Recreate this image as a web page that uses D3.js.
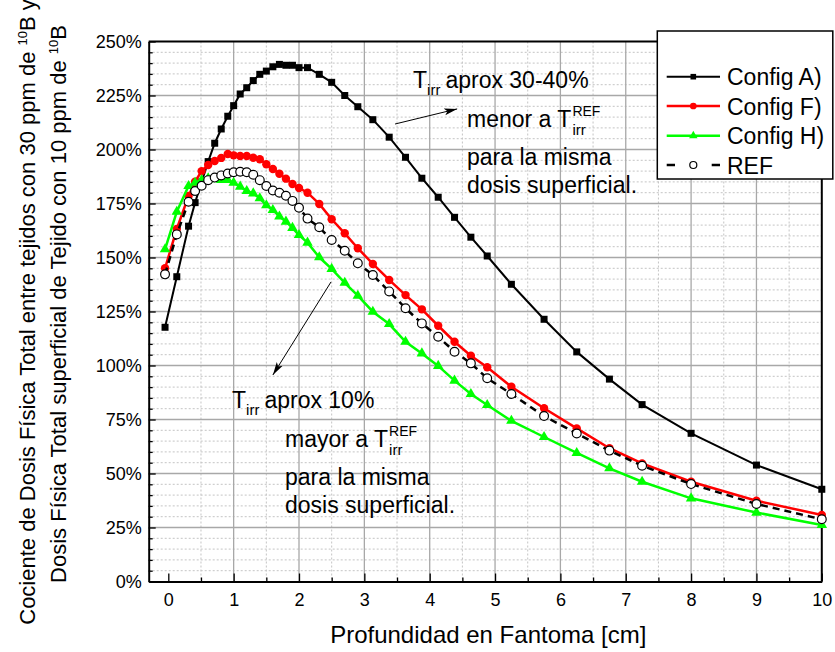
<!DOCTYPE html>
<html>
<head>
<meta charset="utf-8">
<script src="https://cdn.jsdelivr.net/npm/d3@7"></script>
<style>
body { margin: 0; background: #fff; }
svg { font-family: "Liberation Sans", Arial, sans-serif; }
</style>
</head>
<body>
<div id="chart"></div>
<script>
// profundidad (cm)
var depth = [-0.05, 0.13, 0.31, 0.41, 0.51, 0.61, 0.71, 0.81, 0.91, 1.0, 1.1, 1.2, 1.3, 1.4, 1.5, 1.6, 1.7, 1.8, 1.9, 2.0,
  2.13, 2.31, 2.5, 2.7, 2.9, 3.13, 3.38, 3.63, 3.88, 4.13, 4.38, 4.63, 4.88, 5.25, 5.75, 6.25, 6.75, 7.25, 8, 9, 10];

// cociente de dosis (%)
var configA = [117.7, 141.1, 164.5, 175.4, 185.0, 194.4, 202.9, 209.5, 215.4, 220.3, 225.7, 228.6, 231.9, 234.8, 236.3, 238.3, 239.4, 239.0, 239.0, 237.9,
  237.9, 234.8, 231.1, 225.0, 219.8, 213.8, 205.7, 196.4, 186.7, 177.9, 168.6, 159.4, 150.7, 137.6, 121.4, 106.3, 93.7, 81.9, 68.6, 53.9, 42.7];
var configF = [145.0, 163.2, 178.5, 185.1, 190.0, 192.8, 194.7, 196.1, 197.9, 197.3, 197.0, 197.0, 196.2, 195.5, 193.2, 191.0, 188.8, 186.5, 184.0, 182.2,
  180.0, 174.8, 167.7, 161.2, 154.3, 147.0, 139.6, 132.6, 126.0, 118.4, 111.0, 104.5, 99.2, 90.2, 80.2, 70.9, 61.7, 54.7, 46.2, 37.4, 30.8];
var configH = [153.8, 171.2, 183.1, 184.6, 185.9, 186.7, 186.2, 185.9, 185.9, 184.6, 182.8, 180.8, 179.7, 177.4, 174.2, 172.0, 169.0, 166.6, 163.7, 160.4,
  156.9, 150.1, 144.7, 138.3, 132.3, 124.9, 119.2, 111.0, 105.6, 99.8, 93.0, 86.8, 81.7, 74.4, 66.9, 59.5, 52.4, 46.2, 38.5, 31.9, 26.2];
var refSeries = [142.2, 160.7, 175.8, 180.8, 183.2, 185.8, 187.0, 188.0, 188.9, 189.5, 189.7, 189.5, 188.3, 185.8, 183.1, 181.0, 180.0, 178.6, 176.2, 173.0,
  168.0, 164.0, 158.1, 153.1, 147.3, 141.9, 134.3, 126.5, 119.5, 113.3, 106.4, 101.0, 94.1, 86.8, 76.6, 68.5, 60.6, 53.6, 45.1, 35.9, 28.8];

var seriesNames = ["Config A)", "Config F)", "Config H)", "REF"];
var xTicks = [0, 1, 2, 3, 4, 5, 6, 7, 8, 9, 10];
var yTicks = [0, 25, 50, 75, 100, 125, 150, 175, 200, 225, 250];

var width = 835, height = 652;
var margin = {top: 41.5, right: 13.2, bottom: 70.5, left: 148.7};

var svg = d3.select("#chart").append("svg")
  .attr("width", width)
  .attr("height", height);

svg.append("rect").attr("width", width).attr("height", height).attr("fill", "#fff");

var x = d3.scaleLinear().domain([-0.3, 10]).range([margin.left, width - margin.right]);
var y = d3.scaleLinear().domain([0, 250]).range([height - margin.bottom, margin.top]);

var x0 = x.range()[0], x1 = x.range()[1], y0 = y.range()[0], y1 = y.range()[1];

// grid
var minorX = d3.range(0.5, 10, 1);
var minorY = d3.range(5, 250, 5).filter(d => d % 25 != 0);

svg.append("g").selectAll("line").data(minorX).join("line")
  .attr("x1", d => x(d)).attr("x2", d => x(d)).attr("y1", y1).attr("y2", y0)
  .attr("stroke", "#c4c4c4").attr("stroke-dasharray", "2,2");
svg.append("g").selectAll("line").data(minorY).join("line")
  .attr("x1", x0).attr("x2", x1).attr("y1", d => y(d)).attr("y2", d => y(d))
  .attr("stroke", "#c4c4c4").attr("stroke-dasharray", "2,2");
svg.append("g").selectAll("line").data(xTicks.filter(d => d > 0 && d < 10)).join("line")
  .attr("x1", d => x(d)).attr("x2", d => x(d)).attr("y1", y1).attr("y2", y0)
  .attr("stroke", "#a8a8a8").attr("stroke-width", 1.3);
svg.append("g").selectAll("line").data(yTicks.filter(d => d > 0 && d < 250)).join("line")
  .attr("x1", x0).attr("x2", x1).attr("y1", d => y(d)).attr("y2", d => y(d))
  .attr("stroke", "#a8a8a8").attr("stroke-width", 1.3);

// axes
svg.append("g")
  .attr("transform", `translate(${x0},0)`)
  .call(d3.axisLeft(y).tickValues(yTicks).tickSize(-7).tickSizeOuter(0).tickPadding(7).tickFormat(d => d + "%"));
svg.append("g")
  .attr("transform", `translate(${x0},0)`)
  .call(d3.axisLeft(y).tickValues(minorY).tickSize(-4).tickFormat(""))
  .call(g => g.select(".domain").remove());

svg.append("g")
  .attr("transform", `translate(0,${y0})`)
  .call(d3.axisBottom(x).tickValues(xTicks).tickSize(-8).tickSizeOuter(0).tickPadding(12));
svg.append("g")
  .attr("transform", `translate(0,${y0})`)
  .call(d3.axisBottom(x).tickValues(minorX).tickSize(-4).tickFormat(""))
  .call(g => g.select(".domain").remove());

svg.selectAll(".tick line").attr("stroke", "#000").attr("stroke-width", 1.3);
svg.selectAll(".tick text").style("font-size", "18px").style("font-family", "inherit").attr("fill", "#000");
svg.selectAll(".domain").attr("stroke", "#000").attr("stroke-width", 2);

// top / right frame
svg.append("line").attr("x1", x0).attr("x2", x1).attr("y1", y1).attr("y2", y1).attr("stroke", "#000").attr("stroke-width", 2);
svg.append("line").attr("x1", x1).attr("x2", x1).attr("y1", y1).attr("y2", y0).attr("stroke", "#000").attr("stroke-width", 2);

// axis titles
svg.append("text")
  .attr("x", (x0 + x1) / 2 + 3).attr("y", 643)
  .attr("text-anchor", "middle")
  .style("font-size", "24px")
  .text("Profundidad en Fantoma [cm]");

var yt1 = svg.append("text")
  .attr("transform", "translate(34.5,312) rotate(-90)")
  .attr("text-anchor", "middle")
  .style("font-size", "22px");
yt1.append("tspan").text("Cociente de Dosis Física Total entre tejidos con 30 ppm de ");
yt1.append("tspan").attr("dy", -8).style("font-size", "13px").text("10");
yt1.append("tspan").attr("dy", 8).text("B y");

var yt2 = svg.append("text")
  .attr("transform", "translate(65.5,304) rotate(-90)")
  .attr("text-anchor", "middle")
  .style("font-size", "22px");
yt2.append("tspan").text("Dosis Física Total superficial de Tejido con 10 ppm de ");
yt2.append("tspan").attr("dy", -8).style("font-size", "13px").text("10");
yt2.append("tspan").attr("dy", 8).text("B");

// series
var series = [
  {name: seriesNames[0], values: configA, color: "#000", width: 2, dash: null, marker: "square"},
  {name: seriesNames[1], values: configF, color: "#ff0000", width: 2.5, dash: null, marker: "circle"},
  {name: seriesNames[2], values: configH, color: "#00ff00", width: 2.5, dash: null, marker: "triangle"},
  {name: seriesNames[3], values: refSeries, color: "#000", width: 2.5, dash: "7,5", marker: "open"}
];

var line = d3.line()
  .x((d, i) => x(depth[i]))
  .y(d => y(d));

function drawMarker(g, type, cx, cy, scale) {
  if (type == "square") {
    var s = 7 * scale;
    g.append("rect").attr("x", cx - s / 2).attr("y", cy - s / 2).attr("width", s).attr("height", s).attr("fill", "#000");
  } else if (type == "circle") {
    g.append("circle").attr("cx", cx).attr("cy", cy).attr("r", 4.2 * scale).attr("fill", "#ff0000");
  } else if (type == "triangle") {
    g.append("path").attr("d", d3.symbol(d3.symbolTriangle, 48 * scale * scale)())
      .attr("transform", `translate(${cx},${cy})`).attr("fill", "#00ff00");
  } else {
    g.append("circle").attr("cx", cx).attr("cy", cy).attr("r", 4.4 * scale)
      .attr("fill", "#fff").attr("stroke", "#000").attr("stroke-width", 1.2);
  }
}

series.forEach(function(s) {
  var g = svg.append("g");
  g.append("path")
    .attr("d", line(s.values))
    .attr("fill", "none")
    .attr("stroke", s.color)
    .attr("stroke-width", s.width)
    .attr("stroke-dasharray", s.dash);
  s.values.forEach(function(v, i) {
    drawMarker(g, s.marker, x(depth[i]), y(v), 1);
  });
});

// annotations
svg.append("defs").append("marker")
  .attr("id", "arrow")
  .attr("markerUnits", "userSpaceOnUse")
  .attr("markerWidth", 14).attr("markerHeight", 8)
  .attr("refX", 13).attr("refY", 4)
  .attr("orient", "auto")
  .append("path")
  .attr("d", "M0,0.5 L13,4 L0,7.5 L3,4 z")
  .attr("fill", "#000");

var arrows = [
  {from: [3.47, 211.8], to: [4.42, 218.8]},
  {from: [2.49, 138.7], to: [1.60, 95.6]}
];
svg.append("g").selectAll("line").data(arrows).join("line")
  .attr("x1", d => x(d.from[0])).attr("y1", d => y(d.from[1]))
  .attr("x2", d => x(d.to[0])).attr("y2", d => y(d.to[1]))
  .attr("stroke", "#000").attr("stroke-width", 1)
  .attr("marker-end", "url(#arrow)");

function textAt(px, py, str, size) {
  return svg.append("text").attr("x", px).attr("y", py).style("font-size", size + "px").text(str);
}

function annotation(px, py, headline, word, indent) {
  var t = textAt(px, py, "T", 23);
  var tw = t.node().getComputedTextLength();
  var sub = textAt(px + tw, py + 7, "irr", 15);
  var sw = sub.node().getComputedTextLength();
  textAt(px + tw + sw + 5, py, headline, 23);

  var px2 = px + indent;
  var m = textAt(px2, py + 39, word + " a T", 23);
  var mw = m.node().getComputedTextLength();
  textAt(px2 + mw + 1, py + 39 - 11, "REF", 14);
  textAt(px2 + mw + 1, py + 39 + 8, "irr", 15);
  textAt(px2, py + 77, "para la misma", 23);
  textAt(px2, py + 105, "dosis superficial.", 23);
}

annotation(413, 88, "aprox 30-40%", "menor", 54);
annotation(232, 408, "aprox 10%", "mayor", 53);

// legend
var lg = svg.append("g");
lg.append("rect")
  .attr("x", 657.3).attr("y", 31).attr("width", 175.5).attr("height", 148)
  .attr("fill", "#fff").attr("stroke", "#000").attr("stroke-width", 1.5);

var legendY = [76.7, 106, 135.7, 165];
series.forEach(function(s, i) {
  var ly = legendY[i];
  if (s.dash) {
    lg.append("line").attr("x1", 666.7).attr("x2", 675).attr("y1", ly).attr("y2", ly).attr("stroke", s.color).attr("stroke-width", s.width);
    lg.append("line").attr("x1", 711.7).attr("x2", 720).attr("y1", ly).attr("y2", ly).attr("stroke", s.color).attr("stroke-width", s.width);
  } else {
    lg.append("line").attr("x1", 666.7).attr("x2", 720).attr("y1", ly).attr("y2", ly).attr("stroke", s.color).attr("stroke-width", s.width);
  }
  drawMarker(lg, s.marker, 693.3, ly, 0.8);
  lg.append("text").attr("x", 727).attr("y", ly + 8.5).style("font-size", "23px").text(s.name);
});
</script>
</body>
</html>
